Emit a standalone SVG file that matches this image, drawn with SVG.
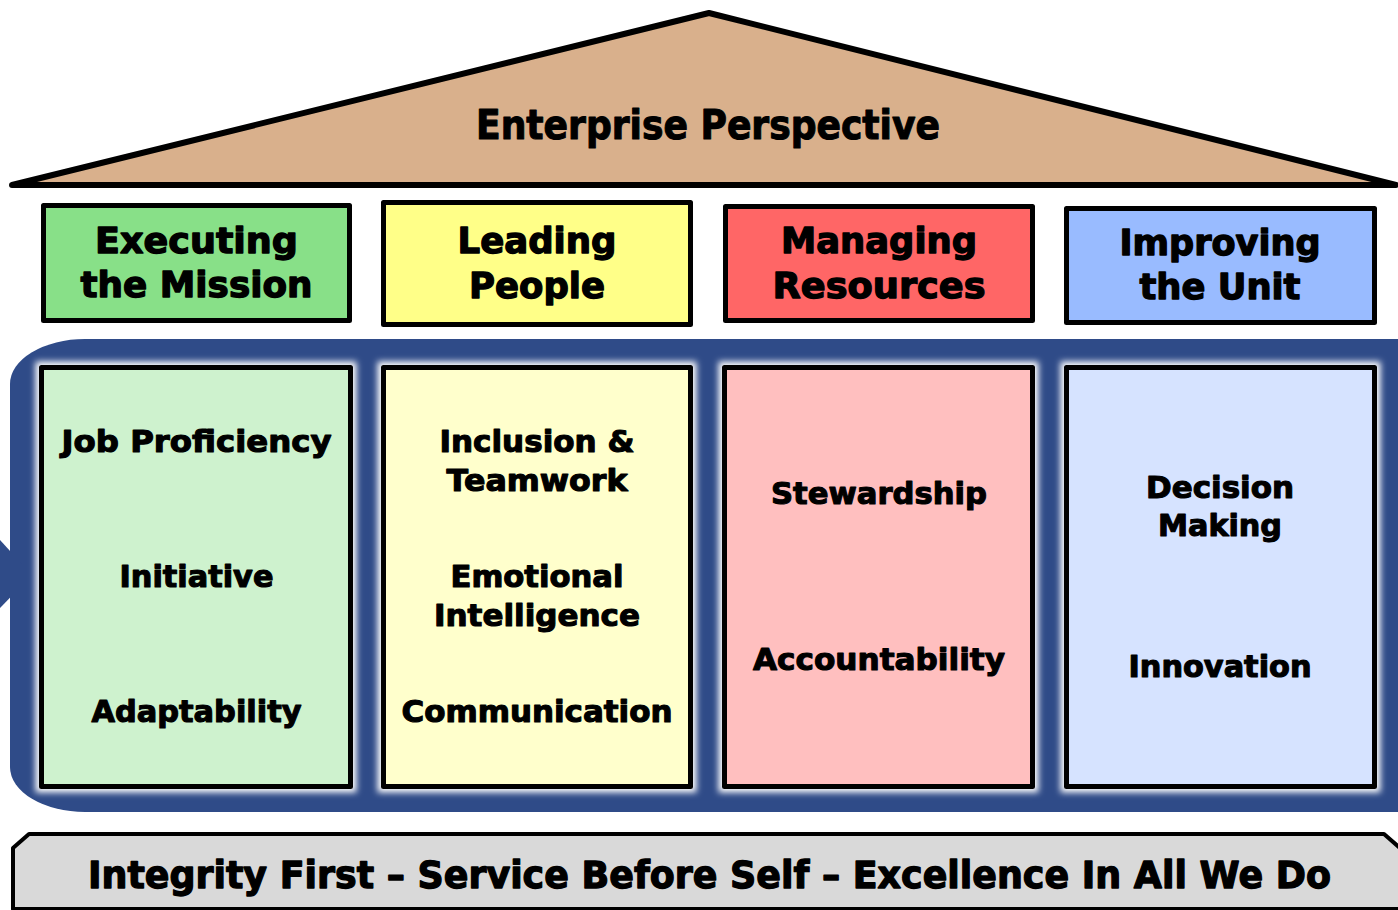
<svg xmlns="http://www.w3.org/2000/svg" width="1398" height="910" viewBox="0 0 1398 910">
<defs>
<style>
.t{font-family:"DejaVu Sans","Liberation Sans",sans-serif;font-weight:bold;fill:#000;stroke:#000;stroke-width:1.1px;stroke-linejoin:round;text-anchor:middle;}
.roof{font-size:40px;}
.hd{font-size:35px;stroke-width:1.3px;}
.in{font-size:30px;}
.bt{font-size:37px;stroke-width:1.3px;}
.box{stroke:#000;stroke-width:5;stroke-linejoin:round;}
.glow{fill:none;stroke:#fff;stroke-width:12;filter:url(#blur);}
</style>
<filter id="blur" x="-10%" y="-10%" width="120%" height="120%">
<feGaussianBlur stdDeviation="3"/>
</filter>
</defs>

<g id="roof">
<polygon points="12,185 709,13 1396,185" fill="#D9B08C" stroke="#000" stroke-width="6" stroke-linejoin="round"/>
<text class="t roof" x="708" y="139" textLength="464" lengthAdjust="spacingAndGlyphs">Enterprise Perspective</text>
</g>

<g id="header-executing">
<rect class="box" x="43.5" y="205.5" width="306" height="115" fill="#88E088"/>
<text class="t hd" x="196.5" y="253" textLength="203" lengthAdjust="spacingAndGlyphs">Executing</text>
<text class="t hd" x="196.5" y="297" textLength="232" lengthAdjust="spacingAndGlyphs">the Mission</text>
</g>
<g id="header-leading">
<rect class="box" x="383.5" y="202.5" width="307" height="122" fill="#FFFF88"/>
<text class="t hd" x="537" y="253" textLength="159" lengthAdjust="spacingAndGlyphs">Leading</text>
<text class="t hd" x="537" y="298" textLength="136" lengthAdjust="spacingAndGlyphs">People</text>
</g>
<g id="header-managing">
<rect class="box" x="725.5" y="206.5" width="307" height="114" fill="#FF6666"/>
<text class="t hd" x="879" y="253" textLength="196" lengthAdjust="spacingAndGlyphs">Managing</text>
<text class="t hd" x="879" y="298" textLength="213" lengthAdjust="spacingAndGlyphs">Resources</text>
</g>
<g id="header-improving">
<rect class="box" x="1066.5" y="208.5" width="308" height="114" fill="#99BBFF"/>
<text class="t hd" x="1220" y="255" textLength="201" lengthAdjust="spacingAndGlyphs">Improving</text>
<text class="t hd" x="1220" y="299" textLength="161" lengthAdjust="spacingAndGlyphs">the Unit</text>
</g>

<g id="band">
<path d="M1410,339 L85,339 A75,45 0 0 0 10,384 L10,767 A75,45 0 0 0 85,812 L1410,812 Z" fill="#2F4B88"/>
<polygon points="0,540 32,575 0,608" fill="#2F4B88"/>
</g>

<g id="col-executing">
<rect class="glow" x="41.5" y="367.5" width="309" height="419"/>
<rect class="box" x="41.5" y="367.5" width="309" height="419" fill="#CEF2CE"/>
<text class="t in" x="196.5" y="452" textLength="270" lengthAdjust="spacingAndGlyphs">Job Proficiency</text>
<text class="t in" x="196.5" y="587" textLength="154" lengthAdjust="spacingAndGlyphs">Initiative</text>
<text class="t in" x="196.5" y="722" textLength="210" lengthAdjust="spacingAndGlyphs">Adaptability</text>
</g>
<g id="col-leading">
<rect class="glow" x="383.5" y="367.5" width="307" height="419"/>
<rect class="box" x="383.5" y="367.5" width="307" height="419" fill="#FFFFCC"/>
<text class="t in" x="537" y="452" textLength="195" lengthAdjust="spacingAndGlyphs">Inclusion &amp;</text>
<text class="t in" x="537" y="491" textLength="181" lengthAdjust="spacingAndGlyphs">Teamwork</text>
<text class="t in" x="537" y="587" textLength="173" lengthAdjust="spacingAndGlyphs">Emotional</text>
<text class="t in" x="537" y="626" textLength="206" lengthAdjust="spacingAndGlyphs">Intelligence</text>
<text class="t in" x="537" y="722" textLength="271" lengthAdjust="spacingAndGlyphs">Communication</text>
</g>
<g id="col-managing">
<rect class="glow" x="724.5" y="367.5" width="308" height="419"/>
<rect class="box" x="724.5" y="367.5" width="308" height="419" fill="#FFBFBF"/>
<text class="t in" x="879" y="504" textLength="216" lengthAdjust="spacingAndGlyphs">Stewardship</text>
<text class="t in" x="879" y="670" textLength="252" lengthAdjust="spacingAndGlyphs">Accountability</text>
</g>
<g id="col-improving">
<rect class="glow" x="1066.5" y="367.5" width="308" height="419"/>
<rect class="box" x="1066.5" y="367.5" width="308" height="419" fill="#D6E3FF"/>
<text class="t in" x="1220" y="498" textLength="148" lengthAdjust="spacingAndGlyphs">Decision</text>
<text class="t in" x="1220" y="536" textLength="124" lengthAdjust="spacingAndGlyphs">Making</text>
<text class="t in" x="1220" y="677" textLength="183" lengthAdjust="spacingAndGlyphs">Innovation</text>
</g>

<g id="foundation">
<path d="M13,909 L13,848 L29,834 L1384,834 L1400,848 L1400,909 Z" fill="#D9D9D9" stroke="#000" stroke-width="4" stroke-linejoin="round"/>
<text class="t bt" x="709.5" y="888" textLength="1243" lengthAdjust="spacingAndGlyphs">Integrity First – Service Before Self – Excellence In All We Do</text>
</g>

<g id="connectors"></g>
</svg>
